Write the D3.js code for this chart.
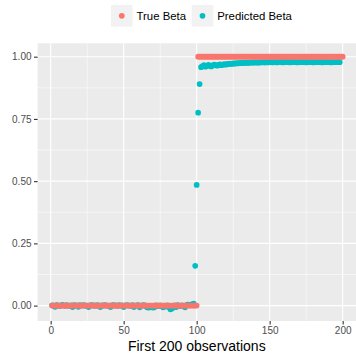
<!DOCTYPE html>
<html><head><meta charset="utf-8">
<script src="https://cdn.jsdelivr.net/npm/d3@7"></script>
<style>body{margin:0;background:#fff}svg{display:block;font-family:"Liberation Sans",Arial,sans-serif}</style>
</head><body><div id="chart"></div>
<script>
const seriesNames = ["True Beta", "Predicted Beta"];
const seriesColors = ["#F8766D", "#00BFC4"];
const xTicks = [0, 50, 100, 150, 200];
const yTicks = [0, 0.25, 0.5, 0.75, 1];
const yTickLabels = ["0.00", "0.25", "0.50", "0.75", "1.00"];
const xTitle = "First 200 observations";
// True beta: observations 1..200
const trueBeta = [
0,0,0,0,0,0,0,0,0,0, 0,0,0,0,0,0,0,0,0,0, 0,0,0,0,0,0,0,0,0,0, 0,0,0,0,0,0,0,0,0,0,
0,0,0,0,0,0,0,0,0,0, 0,0,0,0,0,0,0,0,0,0, 0,0,0,0,0,0,0,0,0,0, 0,0,0,0,0,0,0,0,0,0,
0,0,0,0,0,0,0,0,0,0, 0,0,0,0,0,0,0,0,0,0,
1,1,1,1,1,1,1,1,1,1, 1,1,1,1,1,1,1,1,1,1, 1,1,1,1,1,1,1,1,1,1, 1,1,1,1,1,1,1,1,1,1,
1,1,1,1,1,1,1,1,1,1, 1,1,1,1,1,1,1,1,1,1, 1,1,1,1,1,1,1,1,1,1, 1,1,1,1,1,1,1,1,1,1,
1,1,1,1,1,1,1,1,1,1, 1,1,1,1,1,1,1,1,1,1];
// Predicted beta: observations 1..200
const predBeta = [
0.001,0.000,-0.005,0.002,0.001,-0.002,0.000,0.003,0.001,-0.001,
0.002,0.000,-0.001,0.001,-0.006,0.002,0.000,0.001,-0.005,0.002,
0.000,0.001,0.002,-0.001,0.000,-0.006,0.001,0.002,0.000,0.001,
-0.001,0.002,0.000,-0.006,0.001,0.000,0.002,0.001,-0.001,0.000,
-0.006,0.001,0.002,0.000,0.001,-0.001,0.002,0.000,0.001,-0.006,
0.000,0.002,0.001,0.000,-0.001,0.002,-0.006,0.000,0.001,0.002,
-0.007,0.000,0.001,0.002,-0.002,-0.007,-0.008,-0.007,-0.006,-0.008,
-0.007,0.001,0.000,-0.002,0.001,-0.003,-0.007,0.000,-0.004,0.001,
-0.006,-0.015,-0.012,-0.008,0.001,-0.006,0.002,0.000,-0.002,0.001,
-0.001,-0.007,0.002,0.004,0.003,0.002,0.006,0.008,
0.160,0.485,0.775,0.890,
0.958,0.962,0.966,0.960,0.963,0.967,0.964,0.961,0.965,0.968,
0.966,0.964,0.967,0.969,0.966,0.968,0.970,0.968,0.971,0.970,
0.972,0.971,0.973,0.972,0.974,0.973,0.974,0.975,0.974,0.975,
0.975,0.976,0.975,0.976,0.976,0.977,0.976,0.977,0.977,0.976,
0.977,0.977,0.978,0.977,0.977,0.978,0.977,0.978,0.978,0.977,
0.978,0.978,0.977,0.978,0.978,0.978,0.977,0.978,0.978,0.978,
0.978,0.977,0.978,0.978,0.978,0.978,0.977,0.978,0.978,0.978,
0.978,0.978,0.977,0.978,0.978,0.978,0.978,0.977,0.978,0.978,
0.978,0.978,0.978,0.977,0.978,0.978,0.978,0.978,0.978,0.977,
0.978,0.978,0.978,0.978,0.978,0.978];

const W = 356, H = 355;
const panel = {left: 37.6, right: 357.2, top: 43.3, bottom: 321};
const svg = d3.select("#chart").append("svg").attr("width", W).attr("height", H);
const x = d3.scaleLinear().domain([-8.95, 209.95]).range([panel.left, panel.right]);
const y = d3.scaleLinear().domain([-0.0618, 1.0538]).range([panel.bottom, panel.top]);

svg.append("rect").attr("x", panel.left).attr("y", panel.top)
  .attr("width", panel.right - panel.left).attr("height", panel.bottom - panel.top).attr("fill", "#EBEBEB");

const xMinor = [25, 75, 125, 175], yMinor = [0.125, 0.375, 0.625, 0.875];
const g = svg.append("g");
g.selectAll(".xmin").data(xMinor).join("line").attr("x1", d => x(d)).attr("x2", d => x(d))
  .attr("y1", panel.top).attr("y2", panel.bottom).attr("stroke", "#fff").attr("stroke-width", 0.55);
g.selectAll(".ymin").data(yMinor).join("line").attr("y1", d => y(d)).attr("y2", d => y(d))
  .attr("x1", panel.left).attr("x2", panel.right).attr("stroke", "#fff").attr("stroke-width", 0.55);
g.selectAll(".xmaj").data(xTicks).join("line").attr("x1", d => x(d)).attr("x2", d => x(d))
  .attr("y1", panel.top).attr("y2", panel.bottom).attr("stroke", "#fff").attr("stroke-width", 1.1);
g.selectAll(".ymaj").data(yTicks).join("line").attr("y1", d => y(d)).attr("y2", d => y(d))
  .attr("x1", panel.left).attr("x2", panel.right).attr("stroke", "#fff").attr("stroke-width", 1.1);

const r = 2.85;
const pred = predBeta.map((v, i) => ({x: i + 1, y: v}));
const tru = trueBeta.map((v, i) => ({x: i + 1, y: v}));
svg.append("g").selectAll("circle").data(pred).join("circle")
  .attr("cx", d => x(d.x)).attr("cy", d => y(d.y)).attr("r", r).attr("fill", seriesColors[1]);
svg.append("g").selectAll("circle").data(tru).join("circle")
  .attr("cx", d => x(d.x)).attr("cy", d => y(d.y)).attr("r", r).attr("fill", seriesColors[0]);

// axes
const xAxis = d3.axisBottom(x).tickValues(xTicks).tickSize(3.6).tickPadding(2.5).tickFormat(d3.format("d"));
const xa = svg.append("g").attr("transform", `translate(0,${panel.bottom})`).call(xAxis);
const yAxis = d3.axisLeft(y).tickValues(yTicks).tickSize(3.6).tickPadding(2.5).tickFormat((d, i) => yTickLabels[i]);
const ya = svg.append("g").attr("transform", `translate(${panel.left},0)`).call(yAxis);
[xa, ya].forEach(a => {
  a.select(".domain").remove();
  a.selectAll(".tick line").attr("stroke", "#333333").attr("stroke-width", 1.1);
  a.selectAll(".tick text").attr("fill", "#4D4D4D").attr("font-size", 10).attr("font-family", '"Liberation Sans",Arial,sans-serif');
});

svg.append("text").attr("x", (panel.left + 356) / 2).attr("y", 351).attr("text-anchor", "middle")
  .attr("font-size", 14).attr("fill", "#000").text(xTitle);

// legend
const legX = [111, 191.7];
const lg = svg.append("g");
seriesNames.forEach((name, i) => {
  lg.append("rect").attr("x", legX[i]).attr("y", 5).attr("width", 21.6).attr("height", 21.6).attr("fill", "#F2F2F2");
  lg.append("circle").attr("cx", legX[i] + 10.8).attr("cy", 15.8).attr("r", r).attr("fill", seriesColors[i]);
  lg.append("text").attr("x", legX[i] + 25.5).attr("y", 20).attr("font-size", 11.4).attr("fill", "#000").text(name);
});
</script></body></html>
